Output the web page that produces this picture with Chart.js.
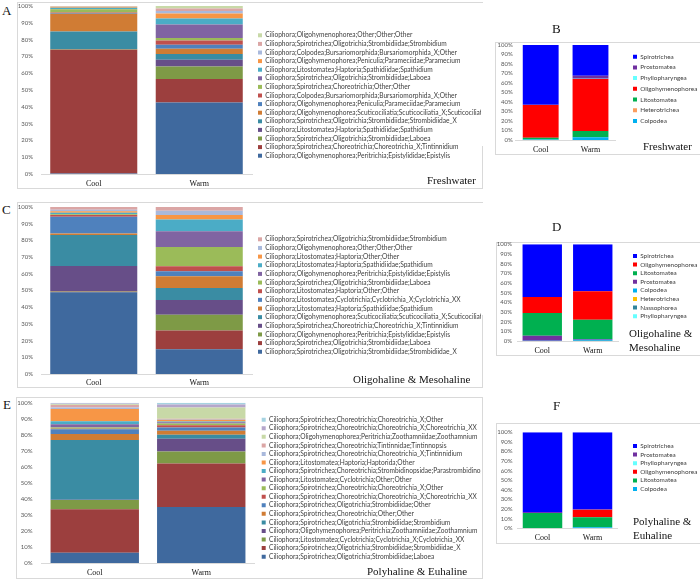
<!DOCTYPE html>
<html>
<head>
<meta charset="utf-8">
<script src="https://cdn.jsdelivr.net/npm/chart.js@4"></script>
<style>
  body { margin: 0; background: #fff; }
  #wrap { position: relative; width: 700px; height: 581px; overflow: hidden; background: #fff; }
  .frame { position: absolute; border: 1px solid #d9d9d9; box-sizing: border-box; }
  .cover { position: absolute; background: #fff; }
  canvas { position: absolute; }
  .lbl { position: absolute; font-family: "Liberation Serif", serif; color: #111; line-height: 1; white-space: nowrap; }
</style>
</head>
<body>
<div id="wrap"></div>
<script>
const categories = ['Cool', 'Warm'];

// A - freshwater genera, bottom of the stack first
const taxaA = [
  'Ciliophora;Oligohymenophorea;Peritrichia;Epistylididae;Epistylis',
  'Ciliophora;Spirotrichea;Choreotrichia;Choreotrichia_X;Tintinnidium',
  'Ciliophora;Spirotrichea;Oligotrichia;Strombidiidae;Laboea',
  'Ciliophora;Litostomatea;Haptoria;Spathidiidae;Spathidium',
  'Ciliophora;Spirotrichea;Oligotrichia;Strombidiidae;Strombidiidae_X',
  'Ciliophora;Oligohymenophorea;Scuticociliatia;Scuticociliatia_X;Scuticociliatia_XX',
  'Ciliophora;Oligohymenophorea;Peniculia;Parameciidae;Paramecium',
  'Ciliophora;Colpodea;Bursariomorphida;Bursariomorphida_X;Other',
  'Ciliophora;Spirotrichea;Choreotrichia;Other;Other',
  'Ciliophora;Spirotrichea;Oligotrichia;Strombidiidae;Laboea',
  'Ciliophora;Litostomatea;Haptoria;Spathidiidae;Spathidium',
  'Ciliophora;Oligohymenophorea;Peniculia;Parameciidae;Paramecium',
  'Ciliophora;Colpodea;Bursariomorphida;Bursariomorphida_X;Other',
  'Ciliophora;Spirotrichea;Oligotrichia;Strombidiidae;Strombidium',
  'Ciliophora;Oligohymenophorea;Other;Other;Other'
];
const coolA = [0.3, 73.7, 0.2, 0.2, 10.4, 10.6, 0.4, 0.4, 1.8, 0.2, 0.8, 0.5, 0.2, 0.1, 0.2];
const warmA = [42.5, 14, 7.5, 4, 3.5, 3, 2.5, 2.5, 1.5, 8, 3.5, 3, 1.5, 1.5, 1.5];

// C - oligohaline & mesohaline genera
const taxaC = [
  'Ciliophora;Spirotrichea;Oligotrichia;Strombidiidae;Strombidiidae_X',
  'Ciliophora;Spirotrichea;Oligotrichia;Strombidiidae;Laboea',
  'Ciliophora;Oligohymenophorea;Peritrichia;Epistylididae;Epistylis',
  'Ciliophora;Spirotrichea;Choreotrichia;Choreotrichia_X;Tintinnidium',
  'Ciliophora;Oligohymenophorea;Scuticociliatia;Scuticociliatia_X;Scuticociliatia_XX',
  'Ciliophora;Litostomatea;Haptoria;Spathidiidae;Spathidium',
  'Ciliophora;Litostomatea;Cyclotrichia;Cyclotrichia_X;Cyclotrichia_XX',
  'Ciliophora;Litostomatea;Haptoria;Other;Other',
  'Ciliophora;Spirotrichea;Oligotrichia;Strombidiidae;Laboea',
  'Ciliophora;Oligohymenophorea;Peritrichia;Epistylididae;Epistylis',
  'Ciliophora;Litostomatea;Haptoria;Spathidiidae;Spathidium',
  'Ciliophora;Litostomatea;Haptoria;Other;Other',
  'Ciliophora;Oligohymenophorea;Other;Other;Other',
  'Ciliophora;Spirotrichea;Oligotrichia;Strombidiidae;Strombidium'
];
const coolC = [49, 0.3, 0.2, 15.2, 18.5, 1, 10, 1, 0.4, 0.2, 0.7, 1, 0.8, 1.7];
const warmC = [14.8, 11.2, 9.5, 8.8, 7.2, 7, 3, 3, 11.5, 9.5, 7, 2.7, 2.6, 2.2];

// E - polyhaline & euhaline genera
const taxaE = [
  'Ciliophora;Spirotrichea;Oligotrichia;Strombidiidae;Laboea',
  'Ciliophora;Spirotrichea;Oligotrichia;Strombidiidae;Strombidiidae_X',
  'Ciliophora;Litostomatea;Cyclotrichia;Cyclotrichia_X;Cyclotrichia_XX',
  'Ciliophora;Oligohymenophorea;Peritrichia;Zoothamniidae;Zoothamnium',
  'Ciliophora;Spirotrichea;Oligotrichia;Strombidiidae;Strombidium',
  'Ciliophora;Spirotrichea;Choreotrichia;Other;Other',
  'Ciliophora;Spirotrichea;Oligotrichia;Strombidiidae;Other',
  'Ciliophora;Spirotrichea;Choreotrichia;Choreotrichia_X;Choreotrichia_XX',
  'Ciliophora;Spirotrichea;Choreotrichia;Choreotrichia_X;Other',
  'Ciliophora;Litostomatea;Cyclotrichia;Other;Other',
  'Ciliophora;Spirotrichea;Choreotrichia;Strombidinopsidae;Parastrombidinopsis',
  'Ciliophora;Litostomatea;Haptoria;Haptorida;Other',
  'Ciliophora;Spirotrichea;Choreotrichia;Choreotrichia_X;Tintinnidium',
  'Ciliophora;Spirotrichea;Choreotrichia;Tintinnidae;Tintinnopsis',
  'Ciliophora;Oligohymenophorea;Peritrichia;Zoothamniidae;Zoothamnium',
  'Ciliophora;Spirotrichea;Choreotrichia;Choreotrichia_X;Choreotrichia_XX',
  'Ciliophora;Spirotrichea;Choreotrichia;Choreotrichia_X;Other'
];
const coolE = [6.4, 27.1, 5.8, 0.2, 37.2, 3.8, 2.9, 0.4, 0.7, 2, 2, 7.5, 1, 1.5, 0.5, 0.5, 0.5];
const warmE = [35, 27, 7.5, 8, 2.5, 2.5, 2, 1.5, 1, 0.8, 0.5, 1, 0.5, 0.2, 7, 1.8, 1.2];

// B, D, F - classes, bottom of the stack first
const classesB = ['Colpodea', 'Heterotrichea', 'Litostomatea', 'Oligohymenophorea', 'Phyllopharyngea', 'Prostomatea', 'Spirotrichea'];
const coolB = [0.5, 0, 2, 34.3, 0, 0.3, 62.9];
const warmB = [2.8, 0.2, 6.5, 54.7, 0.3, 3.2, 32.3];

const classesD = ['Phyllopharyngea', 'Nassophorea', 'Heterotrichea', 'Colpodea', 'Prostomatea', 'Litostomatea', 'Oligohymenophorea', 'Spirotrichea'];
const coolD = [0, 0, 0, 0.2, 5.3, 23.5, 16.5, 54.5];
const warmD = [0, 0.3, 0, 1, 0.7, 20, 29.5, 48.5];

const classesF = ['Colpodea', 'Litostomatea', 'Oligohymenophorea', 'Phyllopharyngea', 'Prostomatea', 'Spirotrichea'];
const coolF = [0, 16, 0.3, 0, 0, 83.7];
const warmF = [1, 10.5, 7.9, 0, 0.3, 80.3];

const genusColors = ['#3f699e', '#9c3f3e', '#7e9a46', '#674e88', '#3a8ca3', '#d07c34',
  '#4f81bd', '#c0504d', '#9bbb59', '#8064a2', '#4bacc6', '#f79646',
  '#a9b9dc', '#dba6a5', '#c8d9a7', '#b5a6cb', '#a6d3e1'];
const classColors = {
  Colpodea: '#00b0f0', Heterotrichea: '#fb9d5e', Litostomatea: '#00b050',
  Oligohymenophorea: '#ff0000', Phyllopharyngea: '#66ffff', Prostomatea: '#7030a0',
  Spirotrichea: '#0000ff', Nassophorea: '#31859c'
};

const wrap = document.getElementById('wrap');

function rect(cls, x, y, w, h) {
  const d = document.createElement('div');
  d.className = cls;
  Object.assign(d.style, { left: x + 'px', top: y + 'px', width: w + 'px', height: h + 'px' });
  wrap.appendChild(d);
}

// y is the middle of the line
function label(str, x, y, size) {
  const d = document.createElement('div');
  d.className = 'lbl';
  d.textContent = str;
  d.style.fontSize = size + 'px';
  d.style.left = x + 'px';
  d.style.top = (y - size / 2) + 'px';
  wrap.appendChild(d);
}

// pins the plot area and the legend to fixed spots on the canvas
const placeArea = {
  id: 'placeArea',
  afterLayout(chart, args, o) {
    if (!o.area) return;
    const [l, t, r, b] = o.area;
    const xs = chart.scales.x, ys = chart.scales.y;
    Object.assign(xs, { left: l, right: r, width: r - l, top: b, bottom: b + xs.height });
    Object.assign(ys, { left: l - ys.width, right: l, top: t, bottom: b, height: b - t });
    xs.configure();
    ys.configure();
    Object.assign(chart.chartArea, { left: l, top: t, right: r, bottom: b, width: r - l, height: b - t });
    const lg = chart.legend;
    const [bx, firstMid, fs, pad] = o.legend;
    lg.left = bx - pad;
    lg.top = firstMid - fs / 2 - pad;
    lg.right = chart.width;
    lg.bottom = chart.height;
    lg.width = lg.right - lg.left;
    lg.height = lg.bottom - lg.top;
  }
};
Chart.register(placeArea);

function panel(c) {
  const [cx, cy, cw, ch] = c.canvas;
  const cv = document.createElement('canvas');
  cv.width = cw;
  cv.height = ch;
  cv.style.left = cx + 'px';
  cv.style.top = cy + 'px';
  wrap.appendChild(cv);

  const area = [c.area[0] - cx, c.area[1] - cy, c.area[2] - cx, c.area[3] - cy];
  const pad = c.spacing - c.fs;

  new Chart(cv, {
    type: 'bar',
    data: {
      labels: categories,
      datasets: c.names.map((n, i) => ({
        label: n,
        data: [c.cool[i], c.warm[i]],
        backgroundColor: c.colors[i],
        borderWidth: 0,
        barPercentage: c.bar,
        categoryPercentage: 1
      }))
    },
    options: {
      responsive: false,
      animation: false,
      layout: { padding: 0 },
      plugins: {
        tooltip: { enabled: false },
        legend: {
          position: 'right',
          align: 'start',
          reverse: true,
          maxWidth: 10,
          labels: {
            boxWidth: 4,
            boxHeight: 4,
            padding: pad,
            color: '#404040',
            font: { family: 'Lato', size: c.fs }
          }
        },
        placeArea: {
          area: area,
          legend: [c.legend[0] - cx, c.legend[1] - cy, c.fs, pad]
        }
      },
      scales: {
        x: {
          stacked: true,
          grid: { display: false, drawTicks: false },
          border: { display: true, color: '#d9d9d9' },
          ticks: { padding: c.xpad, color: '#111', font: { family: 'Liberation Serif', size: 8 } }
        },
        y: {
          stacked: true,
          min: 0,
          max: 100,
          grid: { display: false, drawTicks: false },
          border: { display: false },
          ticks: {
            stepSize: 10,
            autoSkip: false,
            padding: c.ypad,
            color: '#595959',
            font: { family: 'Lato', size: 6 },
            callback: v => v + '%'
          }
        }
      }
    }
  });
}

// frames of the six panels
rect('frame', 17, 2, 466, 187);
rect('frame', 17, 202, 466, 186);
rect('frame', 16, 397, 467, 182);
rect('cover', 482, 3, 12, 143);
rect('cover', 482, 203, 12, 112);
rect('frame', 495, 42, 210, 113);
rect('frame', 496, 242, 210, 114);
rect('frame', 496, 423, 210, 121);

panel({ canvas: [17, 2, 464, 187], area: [41, 6, 252, 174], legend: [258, 35.3], spacing: 8.6, fs: 6.6,
  ypad: 8, xpad: 5, bar: 0.825, names: taxaA, cool: coolA, warm: warmA, colors: genusColors });
panel({ canvas: [17, 202, 464, 186], area: [41, 207, 252, 374], legend: [258, 239.3], spacing: 8.65, fs: 6.6,
  ypad: 8, xpad: 4, bar: 0.825, names: taxaC, cool: coolC, warm: warmC, colors: genusColors });
panel({ canvas: [16, 397, 465, 182], area: [41.5, 402.7, 254.5, 563], legend: [261.7, 419.7], spacing: 8.56, fs: 6.6,
  ypad: 9, xpad: 5, bar: 0.83, names: taxaE, cool: coolE, warm: warmE, colors: genusColors });

panel({ canvas: [483, 25, 217, 135], area: [515.8, 45, 615.4, 140], legend: [633, 56.7], spacing: 10.7, fs: 6.4,
  ypad: 3, xpad: 5, bar: 0.72, names: classesB, cool: coolB, warm: warmB,
  colors: classesB.map(n => classColors[n]) });
panel({ canvas: [483, 230, 217, 135], area: [517, 244.3, 618, 341], legend: [633, 256], spacing: 8.6, fs: 6.4,
  ypad: 5, xpad: 5, bar: 0.78, names: classesD, cool: coolD, warm: warmD,
  colors: classesD.map(n => n === 'Heterotrichea' ? '#ffc000' : classColors[n]) });
panel({ canvas: [483, 415, 217, 130], area: [517.5, 432.3, 617.5, 528.3], legend: [633, 446], spacing: 8.6, fs: 6.4,
  ypad: 5, xpad: 5, bar: 0.79, names: classesF, cool: coolF, warm: warmF,
  colors: classesF.map(n => classColors[n]) });

// panel letters and region names
label('A', 2, 10, 13);
label('B', 552, 28, 13);
label('C', 2, 209, 13);
label('D', 552, 226, 13);
label('E', 3, 404, 13);
label('F', 553, 405, 13);
label('Freshwater', 427, 180, 11);
label('Freshwater', 643, 146, 11);
label('Oligohaline & Mesohaline', 353, 379, 11);
label('Oligohaline &', 629, 333, 11);
label('Mesohaline', 629, 347, 11);
label('Polyhaline & Euhaline', 367, 571, 11);
label('Polyhaline &', 633, 521, 11);
label('Euhaline', 633, 535, 11);
</script>
</body>
</html>
